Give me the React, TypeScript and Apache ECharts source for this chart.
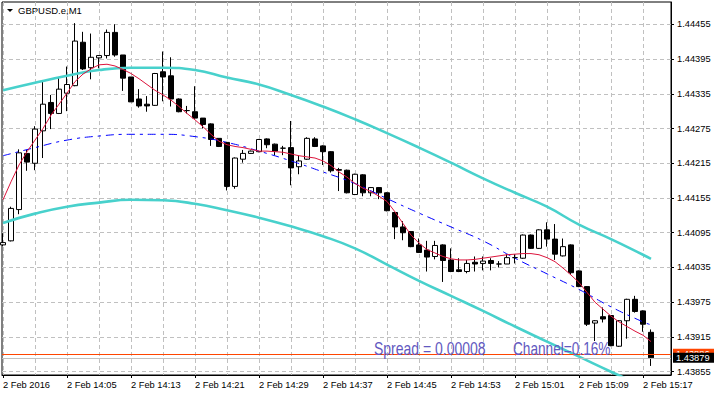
import React, { useEffect, useRef } from 'react';
import * as echarts from 'echarts';

const symbolTitle = 'GBPUSD.e,M1';
const spread = 0.00008;
const channelPct = 0.16;
const bidPrice = 1.43879;
const askPrice = 1.43886;

const tickBars = [0, 8, 16, 24, 32, 40, 48, 56, 64, 72, 80];
const tickLabels = ['2 Feb 2016', '2 Feb 14:05', '2 Feb 14:13', '2 Feb 14:21', '2 Feb 14:29', '2 Feb 14:37', '2 Feb 14:45', '2 Feb 14:53', '2 Feb 15:01', '2 Feb 15:09', '2 Feb 15:17'];
const gridBars = [0, 4, 8, 12, 16, 20, 24, 28, 32, 36, 40, 44, 48, 52, 56, 60, 64, 68, 72, 76, 80];
const priceTicks = [1.43855, 1.43915, 1.43975, 1.44035, 1.44095, 1.44155, 1.44215, 1.44275, 1.44335, 1.44395, 1.44455];

const opens = [
  1.44074, 1.44081, 1.44135, 1.44232, 1.44215, 1.44271, 1.44320, 1.44301, 1.44336, 1.44349,
  1.44424, 1.44380, 1.44397, 1.44401, 1.44441, 1.44402, 1.44364, 1.44326, 1.44317, 1.44315,
  1.44373, 1.44366, 1.44326, 1.44306, 1.44304, 1.44293, 1.44283, 1.44258, 1.44251, 1.44175,
  1.44222, 1.44232, 1.44235, 1.44257, 1.44248, 1.44241, 1.44242, 1.44209, 1.44222, 1.44257,
  1.44245, 1.44235, 1.44204, 1.44203, 1.44161, 1.44195, 1.44164, 1.44173, 1.44164, 1.44130,
  1.44105, 1.44097, 1.44074, 1.44065, 1.44054, 1.44074, 1.44048, 1.44031, 1.44028, 1.44044,
  1.44042, 1.44047, 1.44041, 1.44041, 1.44052, 1.44051, 1.44091, 1.44068, 1.44100, 1.44084,
  1.44055, 1.44074, 1.44029, 1.44002, 1.43939, 1.43950, 1.43952, 1.43899, 1.43943, 1.43980,
  1.43960, 1.43923,
];
const closes = [
  1.44078, 1.44137, 1.44233, 1.44217, 1.44274, 1.44317, 1.44301, 1.44343, 1.44351, 1.44426,
  1.44378, 1.44398, 1.44401, 1.44441, 1.44402, 1.44362, 1.44321, 1.44314, 1.44314, 1.44370,
  1.44364, 1.44326, 1.44304, 1.44306, 1.44293, 1.44282, 1.44256, 1.44244, 1.44175, 1.44224,
  1.44232, 1.44236, 1.44256, 1.44247, 1.44236, 1.44241, 1.44207, 1.44219, 1.44258, 1.44244,
  1.44235, 1.44202, 1.44203, 1.44164, 1.44196, 1.44164, 1.44173, 1.44164, 1.44133, 1.44105,
  1.44095, 1.44071, 1.44061, 1.44053, 1.44073, 1.44047, 1.44028, 1.44028, 1.44042, 1.44041,
  1.44046, 1.44042, 1.44041, 1.44052, 1.44052, 1.44091, 1.44068, 1.44100, 1.44084, 1.44058,
  1.44071, 1.44026, 1.44002, 1.43937, 1.43943, 1.43946, 1.43900, 1.43943, 1.43980, 1.43959,
  1.43937, 1.43879,
];
const highs = [
  1.44094, 1.44140, 1.44239, 1.44238, 1.44279, 1.44356, 1.44333, 1.44362, 1.44382, 1.44457,
  1.44442, 1.44439, 1.44401, 1.44446, 1.44455, 1.44402, 1.44364, 1.44343, 1.44331, 1.44371,
  1.44408, 1.44398, 1.44327, 1.44314, 1.44348, 1.44293, 1.44284, 1.44258, 1.44252, 1.44225,
  1.44238, 1.44237, 1.44257, 1.44258, 1.44249, 1.44245, 1.44288, 1.44228, 1.44260, 1.44260,
  1.44246, 1.44236, 1.44207, 1.44204, 1.44197, 1.44196, 1.44174, 1.44174, 1.44165, 1.44131,
  1.44115, 1.44098, 1.44085, 1.44081, 1.44081, 1.44075, 1.44068, 1.44051, 1.44048, 1.44054,
  1.44054, 1.44051, 1.44046, 1.44058, 1.44058, 1.44092, 1.44092, 1.44101, 1.44113, 1.44110,
  1.44085, 1.44075, 1.44030, 1.44003, 1.43944, 1.43966, 1.43953, 1.43944, 1.43981, 1.43986,
  1.43961, 1.43928,
];
const lows = [
  1.44072, 1.44080, 1.44127, 1.44202, 1.44203, 1.44224, 1.44274, 1.44300, 1.44305, 1.44348,
  1.44376, 1.44360, 1.44379, 1.44396, 1.44399, 1.44340, 1.44321, 1.44311, 1.44304, 1.44314,
  1.44322, 1.44313, 1.44303, 1.44301, 1.44292, 1.44275, 1.44245, 1.44243, 1.44168, 1.44171,
  1.44216, 1.44231, 1.44234, 1.44241, 1.44229, 1.44229, 1.44177, 1.44196, 1.44221, 1.44243,
  1.44212, 1.44199, 1.44167, 1.44163, 1.44160, 1.44158, 1.44158, 1.44153, 1.44132, 1.44084,
  1.44082, 1.44070, 1.44060, 1.44028, 1.44049, 1.44010, 1.44027, 1.44027, 1.44025, 1.44028,
  1.44030, 1.44030, 1.44035, 1.44041, 1.44042, 1.44050, 1.44067, 1.44067, 1.44071, 1.44048,
  1.44054, 1.44022, 1.44001, 1.43934, 1.43908, 1.43940, 1.43899, 1.43898, 1.43912, 1.43957,
  1.43924, 1.43865,
];
const maValues = [
  1.44152, 1.44183, 1.44212, 1.44235, 1.44255, 1.44275, 1.44298, 1.44317, 1.44336, 1.44356,
  1.44369, 1.44378, 1.44385, 1.44386, 1.44383, 1.44377, 1.44370, 1.44361, 1.44351, 1.44341,
  1.44333, 1.44324, 1.44313, 1.44301, 1.44290, 1.44278, 1.44265, 1.44253, 1.44247, 1.44244,
  1.44242, 1.44239, 1.44236, 1.44236, 1.44235, 1.44234, 1.44231, 1.44228, 1.44226, 1.44224,
  1.44219, 1.44211, 1.44200, 1.44191, 1.44180, 1.44172, 1.44166, 1.44158, 1.44149, 1.44131,
  1.44111, 1.44091, 1.44077, 1.44066, 1.44060, 1.44054, 1.44050, 1.44048, 1.44048, 1.44049,
  1.44051, 1.44053, 1.44055, 1.44057, 1.44058, 1.44059, 1.44059, 1.44057, 1.44052, 1.44045,
  1.44034, 1.44022, 1.44009, 1.43992, 1.43975, 1.43963, 1.43951, 1.43941, 1.43933, 1.43925,
  1.43918, 1.43907,
];

const channelBars = [0, 4, 8, 12, 16, 20, 24, 28, 32, 36, 40, 44, 48, 52, 56, 60, 64, 68, 72, 76, 80, 81];
const centreLine = [1.44228, 1.44242, 1.44255, 1.44262, 1.44265, 1.44265, 1.44261, 1.44251, 1.44236, 1.44219, 1.44200, 1.44180, 1.44154, 1.44129, 1.44105, 1.44081, 1.44051, 1.44024, 1.43997, 1.43967, 1.43941, 1.43936];
const upperLine = [1.44341, 1.44354, 1.44366, 1.44376, 1.44380, 1.44380, 1.44376, 1.44363, 1.44351, 1.44333, 1.44313, 1.44291, 1.44267, 1.44242, 1.44216, 1.44189, 1.44164, 1.44140, 1.44109, 1.44084, 1.44057, 1.44050];
const lowerLine = [1.44112, 1.44128, 1.44140, 1.44147, 1.44152, 1.44151, 1.44145, 1.44134, 1.44121, 1.44106, 1.44089, 1.44068, 1.44040, 1.44012, 1.43986, 1.43960, 1.43933, 1.43907, 1.43881, 1.43855, 1.43830, 1.43823];

const FONT = '"Liberation Sans", Arial, sans-serif';

export default function App() {
  const ref = useRef<HTMLDivElement>(null);
  useEffect(() => {
    const chart = echarts.init(ref.current!, null, { renderer: 'svg' });
    const candleData = opens.map((o, i) => [i, o, closes[i], lows[i], highs[i]]);
    const maData = maValues.map((v, i) => [i, v]);
    const toPts = (arr: number[]) => channelBars.map((b, i) => [b, arr[i]]);
    const gridLine = { show: true, lineStyle: { color: '#C0C0C0', type: [4, 3], width: 1 } };
    const priceLabel = (bg: string, v: number) => ({
      show: true, position: 'end', distance: 2, formatter: v.toFixed(5), backgroundColor: bg, color: '#fff',
      padding: [1, 5, 0, 3], fontSize: 9.3, fontFamily: FONT, lineHeight: 9,
    });
    const option: any = {
      animation: false,
      backgroundColor: '#ffffff',
      grid: { left: 2, top: 2, width: 669, height: 373, show: true, borderColor: '#000', borderWidth: 1, backgroundColor: 'transparent' },
      xAxis: [
        {
          type: 'value', min: -0.125, max: 83.5,
          axisLine: { show: true, onZero: false, lineStyle: { color: '#000', width: 1 } },
          axisTick: { show: false, customValues: gridBars },
          axisLabel: {
            customValues: tickBars,
            formatter: (v: number) => { const k = tickBars.indexOf(Math.round(v)); return k >= 0 ? tickLabels[k] : ''; },
            align: 'left', margin: 5, fontSize: 9.3, fontFamily: FONT, color: '#000',
          },
          splitLine: gridLine,
        },
        {
          type: 'value', min: -0.125, max: 83.5, position: 'bottom',
          axisLine: { show: false, onZero: false },
          axisTick: { show: true, customValues: tickBars, length: 3, lineStyle: { color: '#000' } },
          axisLabel: { show: false },
          splitLine: { show: false },
        },
      ],
      yAxis: {
        type: 'value', position: 'right', min: 1.438493, max: 1.444935,
        axisLine: { show: true, onZero: false, lineStyle: { color: '#000', width: 1 } },
        axisTick: { show: true, customValues: priceTicks, length: 3, lineStyle: { color: '#000' } },
        axisLabel: { customValues: priceTicks, formatter: (v: number) => v.toFixed(5), margin: 6, fontSize: 9.3, fontFamily: FONT, color: '#000' },
        splitLine: gridLine,
      },
      graphic: [
        { type: 'polygon', shape: { points: [[7, 9], [13, 9], [10, 12]] }, style: { fill: '#000' } },
        { type: 'text', x: 18, y: 10.5, style: { text: symbolTitle, font: `9.5px ${FONT}`, fill: '#000', verticalAlign: 'middle' } },
        { type: 'text', x: 374, y: 348.5, scaleX: 0.8, z: 100, style: { text: `Spread = ${spread.toFixed(5)}`, font: `17.5px ${FONT}`, fill: '#6258C0', verticalAlign: 'middle' } },
        { type: 'text', x: 513, y: 348.5, scaleX: 0.78, z: 100, style: { text: `Channel=${channelPct.toFixed(2)}%`, font: `17.5px ${FONT}`, fill: '#6258C0', verticalAlign: 'middle' } },
      ],
      series: [
        {
          type: 'candlestick', data: candleData, barWidth: 5, z: 2,
          itemStyle: { color: '#ffffff', color0: '#000000', borderColor: '#000000', borderColor0: '#000000', borderColorDoji: '#000000', borderWidth: 1 },
        },
        { type: 'line', data: toPts(upperLine), smooth: true, symbol: 'none', z: 3, lineStyle: { color: '#48D1CC', width: 2.6 } },
        { type: 'line', data: toPts(lowerLine), smooth: true, symbol: 'none', z: 3, lineStyle: { color: '#48D1CC', width: 2.6 } },
        { type: 'line', data: toPts(centreLine), smooth: true, symbol: 'none', z: 4, lineStyle: { color: '#0000FF', width: 1, type: [8, 5, 3, 5] } },
        {
          type: 'line', data: maData, symbol: 'none', z: 5, lineStyle: { color: '#DC143C', width: 1 },
          markLine: {
            silent: true, symbol: ['none', 'none'], animation: false, precision: 5,
            data: [
              { yAxis: askPrice, lineStyle: { color: '#FF4500', type: 'solid', width: 1 }, label: priceLabel('#FF4500', askPrice) },
              { yAxis: bidPrice, lineStyle: { color: '#C0C0C0', type: 'solid', width: 1 }, label: priceLabel('#000000', bidPrice) },
            ],
          },
        },
      ],
    };
    chart.setOption(option);
    return () => chart.dispose();
  }, []);
  return <div ref={ref} style={{ position: 'fixed', left: 0, top: 0, width: 714, height: 396 }} />;
}
